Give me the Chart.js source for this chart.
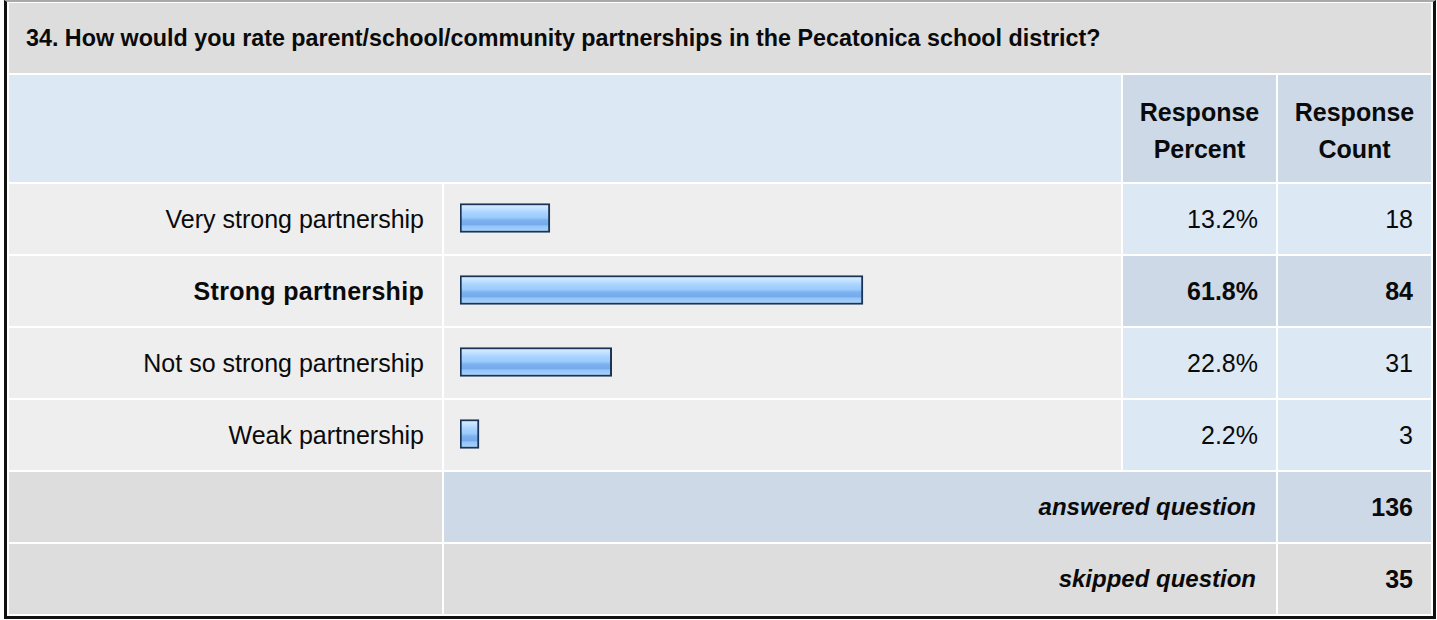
<!DOCTYPE html>
<html lang="en">
<head>
  <meta charset="UTF-8" />
  <title>Q34 parent/school/community partnerships</title>
  <script src="https://cdn.jsdelivr.net/npm/chart.js"></script>
  <style>
    body {
      margin: 0;
      background: #fff;
      font-family: Arial, 'Liberation Sans', sans-serif;
      color: #0a0a0a;
    }
    #frame {
      position: absolute;
      left: 4px; top: 0;
      width: 1426px; height: 614px;
      border-top: 2px solid #a8a8a8;
      border-left: 3px solid #111;
      border-right: 3px solid #111;
      border-bottom: 3px solid #111;
    }
    #grid {
      position: absolute;
      left: 9px; top: 3px;
      display: grid;
      grid-template-columns: 433px 677px 153px 153px;
      grid-template-rows: 70px 107px repeat(6, 70px);
      gap: 2px;
      font-size: 25px;
    }
    #grid > div { display: flex; align-items: center; }
    .title {
      grid-column: 1 / 5;
      background: #dddddd;
      font-weight: bold;
      font-size: 23.3px;
      padding-left: 17px;
    }
    .head { grid-column: 1 / 3; background: #dde8f5; }
    .headnum {
      background: #cdd9e6;
      font-weight: bold;
      justify-content: center;
      text-align: center;
      line-height: 37px;
      padding-top: 4px;
    }
    .lab { background: #eeeeee; justify-content: flex-end; padding-right: 18px; }
    .lab.hi { letter-spacing: 0.3px; }
    .bar { background: #eeeeee; }
    .num { background: #dde8f5; justify-content: flex-end; padding-right: 18px; }
    .hi { font-weight: bold; }
    .num.hi { background: #cdd9e6; }
    .foot { background: #dddddd; }
    .sumlab { grid-column: 2 / 4; justify-content: flex-end; padding-right: 20px; font-weight: bold; font-style: italic; font-size: 24px; }
    .sumnum { justify-content: flex-end; padding-right: 18px; font-weight: bold; }
    .blue { background: #cdd9e6; }
    .grey { background: #dddddd; }
    #chartBox {
      position: absolute;
      left: 444px; top: 182px;
      width: 677px; height: 288px;
    }
  </style>
</head>
<body>
  <div id="frame"></div>
  <div id="grid"></div>
  <div id="chartBox"><canvas id="bars"></canvas></div>
  <script>
    const question = '34. How would you rate parent/school/community partnerships in the Pecatonica school district?';
    const categories = ['Very strong partnership', 'Strong partnership', 'Not so strong partnership', 'Weak partnership'];
    const percents = [13.2, 61.8, 22.8, 2.2];
    const counts = [18, 84, 31, 3];
    const answered = 136;
    const skipped = 35;

    const topIdx = percents.indexOf(Math.max(...percents));
    const grid = document.getElementById('grid');

    function cell(cls, text) {
      const d = document.createElement('div');
      d.className = cls;
      if (text !== undefined) d.innerHTML = text;
      grid.appendChild(d);
    }

    cell('title', question);
    cell('head');
    cell('headnum', 'Response<br>Percent');
    cell('headnum', 'Response<br>Count');
    categories.forEach((c, i) => {
      const hi = i === topIdx ? ' hi' : '';
      cell('lab' + hi, c);
      cell('bar');
      cell('num' + hi, percents[i].toFixed(1) + '%');
      cell('num' + hi, counts[i]);
    });
    cell('foot');
    cell('sumlab blue', 'answered question');
    cell('sumnum blue', answered);
    cell('foot');
    cell('sumlab grey', 'skipped question');
    cell('sumnum grey', skipped);

    const BAR_H = 29;

    // glossy blue stripes, rebuilt for each bar's own position
    function barFill(ctx) {
      const chart = ctx.chart;
      const yScale = chart.scales.y;
      if (!chart.chartArea || !yScale || ctx.dataIndex === undefined) return '#9cc9f8';
      const yc = yScale.getPixelForValue(ctx.dataIndex);
      const y0 = yc - BAR_H / 2;
      const g = chart.ctx.createLinearGradient(0, y0, 0, y0 + BAR_H);
      g.addColorStop(0, '#e2f1ff');
      g.addColorStop(0.18, '#c3e2ff');
      g.addColorStop(0.32, '#a9d4ff');
      g.addColorStop(0.5, '#98c9fc');
      g.addColorStop(0.56, '#7eb4f1');
      g.addColorStop(0.72, '#74aaea');
      g.addColorStop(0.78, '#93c5f9');
      g.addColorStop(1, '#acd6fd');
      return g;
    }

    new Chart(document.getElementById('bars'), {
      type: 'bar',
      data: {
        labels: categories,
        datasets: [{
          data: percents,
          base: -0.75,
          backgroundColor: barFill,
          borderColor: '#1b3354',
          borderWidth: 2,
          borderSkipped: false,
          barThickness: BAR_H
        }]
      },
      options: {
        indexAxis: 'y',
        responsive: true,
        maintainAspectRatio: false,
        animation: false,
        layout: { padding: { left: 16, right: 12, top: 0, bottom: 0 } },
        scales: {
          x: { min: -0.75, max: 100, display: false },
          y: { display: false }
        },
        plugins: {
          legend: { display: false },
          tooltip: { enabled: false }
        }
      }
    });
  </script>
</body>
</html>
